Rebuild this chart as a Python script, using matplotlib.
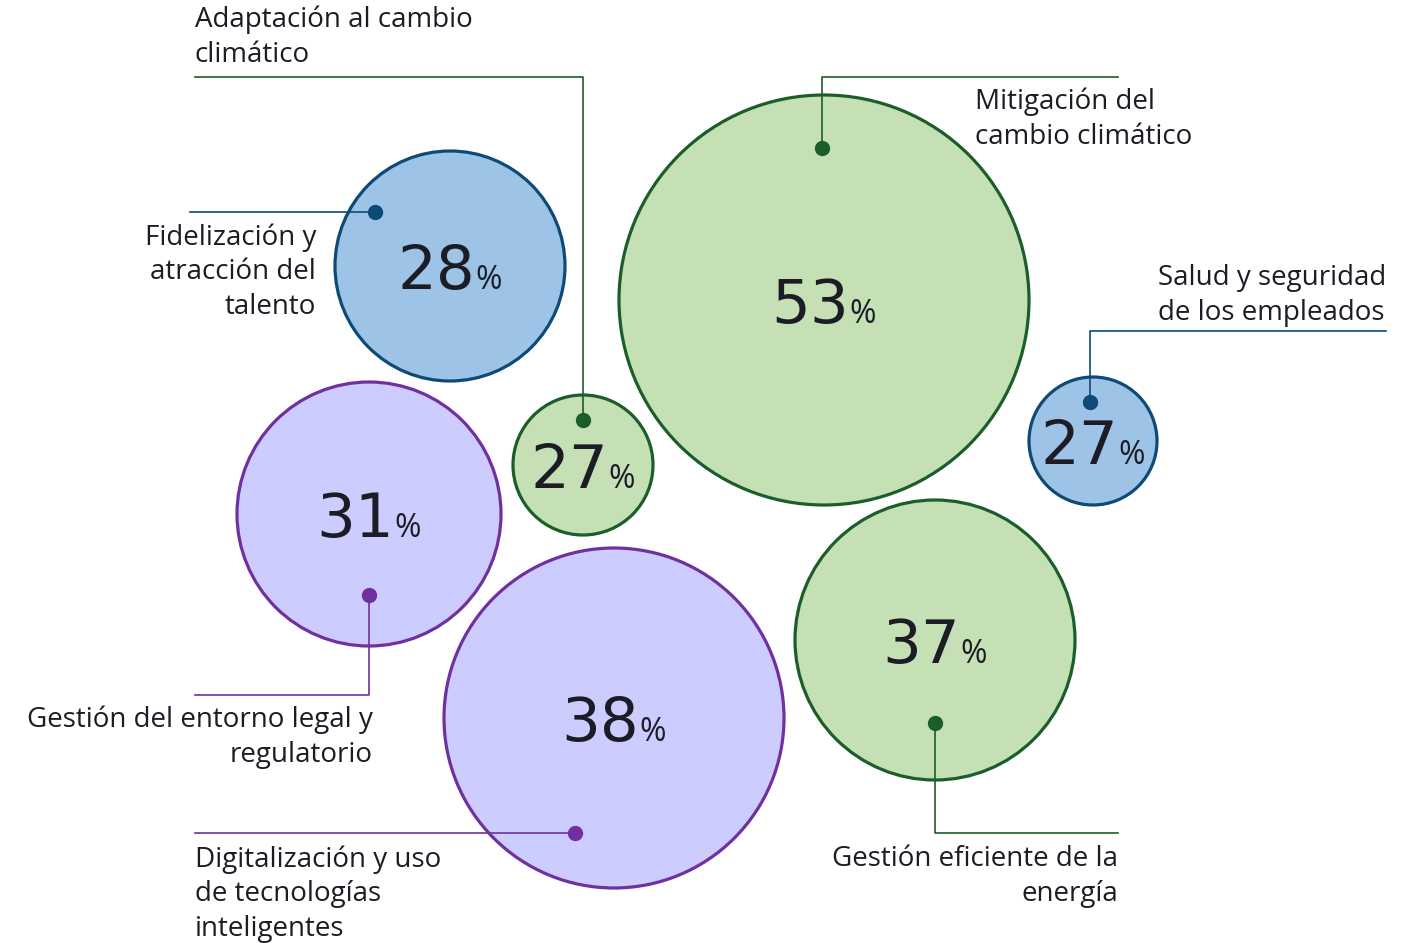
import matplotlib
matplotlib.use("Agg")
import matplotlib.pyplot as plt
from matplotlib.patches import Circle

plt.rcParams['font.family'] = ['Open Sans', 'DejaVu Sans']

# data
topics = ["Fidelización y\natracción del\ntalento",
          "Mitigación del\ncambio climático",
          "Adaptación al cambio\nclimático",
          "Salud y seguridad\nde los empleados",
          "Gestión del entorno legal y\nregulatorio",
          "Digitalización y uso\nde tecnologías\ninteligentes",
          "Gestión eficiente de la\nenergía"]
values = [28, 53, 27, 27, 31, 38, 37]
groups = ["blue", "green", "green", "blue", "purple", "purple", "green"]

# layout (pixel coords, y down)
centers = [(450, 266), (824, 300), (583, 465), (1093, 441),
           (369, 514), (614, 718), (935, 640)]
radii = [115, 205, 70, 64, 132, 170, 140]
dots = [(375, 212), (822, 148), (583, 420), (1090, 402),
        (369, 595), (575, 833), (935, 723)]
leaders = [[(375, 212), (190, 212)],
           [(822, 148), (822, 77), (1118, 77)],
           [(583, 420), (583, 77), (195, 77)],
           [(1090, 402), (1090, 331), (1386, 331)],
           [(369, 595), (369, 695), (195, 695)],
           [(575, 833), (195, 833)],
           [(935, 723), (935, 833), (1118, 833)]]
label_pos = [(316, 223, 'right'), (975, 88, 'left'), (195, 6, 'left'),
             (1158, 264, 'left'), (373, 706, 'right'), (195, 845, 'left'),
             (1118, 845, 'right')]

fills = {"blue": "#9dc3e6", "green": "#c5e0b4", "purple": "#ccccfe"}
edges = {"blue": "#0d4a76", "green": "#1b5e2b", "purple": "#7030a0"}
txt = "#1c1c26"

fig = plt.figure(figsize=(14.2, 9.43), dpi=100)
ax = fig.add_axes([0, 0, 1, 1])
ax.set_xlim(0, 1420)
ax.set_ylim(943, 0)
ax.set_aspect('equal')
ax.axis('off')

for (cx, cy), r, g, v in zip(centers, radii, groups, values):
    ax.add_patch(Circle((cx, cy), r, facecolor=fills[g], edgecolor=edges[g],
                        linewidth=2.3, zorder=1))
    ax.text(cx + 25, cy + 23, str(v), ha='right', va='baseline',
            fontsize=44, color=txt, family='DejaVu Sans', zorder=4)
    ax.text(cx + 25, cy + 23, '%', ha='left', va='baseline',
            fontsize=23, color=txt, family='Open Sans', zorder=4)

for pts, (dx, dy), g in zip(leaders, dots, groups):
    xs = [p[0] for p in pts]
    ys = [p[1] for p in pts]
    ax.plot(xs, ys, color=edges[g], linewidth=1.2, zorder=3)
    ax.plot(dx, dy, 'o', color=edges[g], markersize=10, zorder=3)

for t, (lx, ly, ha) in zip(topics, label_pos):
    ax.text(lx, ly, t, ha=ha, va='top', fontsize=20, color=txt,
            linespacing=1.33, multialignment=ha)

fig.savefig("out.png", dpi=100)
